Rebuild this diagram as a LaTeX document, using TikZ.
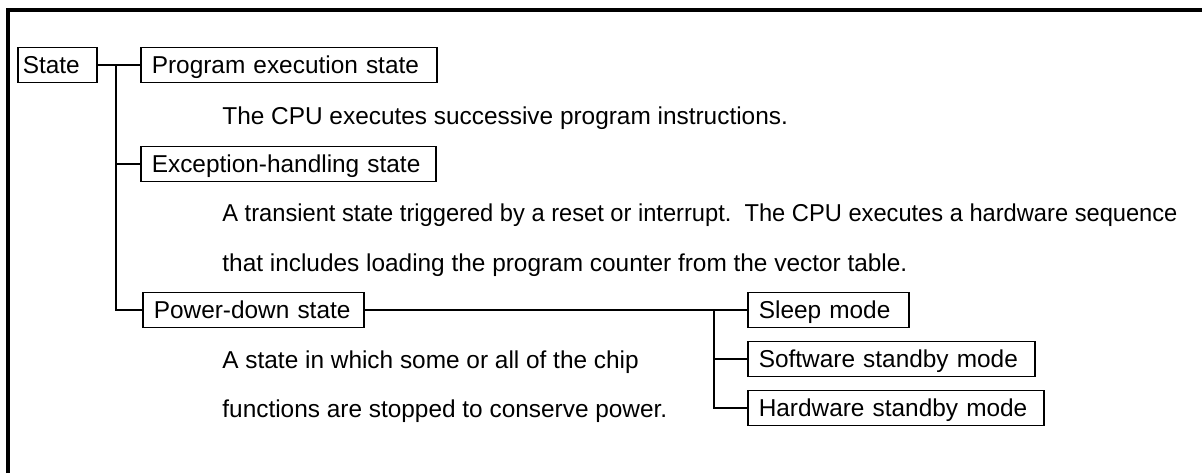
\documentclass[tikz,border=0pt]{standalone}
\usepackage{graphicx}
\usepackage{fontspec}
\setmainfont{Liberation Sans}
\begin{document}
\begin{tikzpicture}[x=0.5pt, y=-0.5pt,
    font=\fontsize{12.2}{14}\selectfont,
    box/.style={draw, line width=0.8pt, anchor=west, align=left,
                inner xsep=5.5pt, inner ysep=0pt, minimum height=17.5pt,
                text height=8.8pt, text depth=0pt},
    desc/.style={anchor=base west, inner sep=0pt},
    link/.style={line width=0.8pt}]
  \useasboundingbox (0,0) rectangle (1202,473);
  % frame
  \draw [line width=2pt] (8,473) -- (8,10) -- (1202,10);
  % states
  \node [box, inner xsep=2.5pt, text width=34.5pt] (state) at (17,65)  {State};
  \node [box, text width=137pt]   (prog)  at (140,65)  {Program execution state};
  \node [box, text width=136.5pt] (exc)   at (140,164) {Exception-handling state};
  \node [box, text width=99.5pt]  (power) at (142,310) {Power-down state};
  % power-down modes
  \node [box, text width=69.5pt]  (sleep) at (747,310) {Sleep mode};
  \node [box, text width=132.5pt] (soft)  at (747,359) {Software standby mode};
  \node [box, text width=137pt]   (hard)  at (747,408) {Hardware standby mode};
  % descriptions
  \node [desc] (progtxt)  at (222,124) {The CPU executes successive program instructions.};
  \node [desc] (exctxt)   at (222,221) {\scalebox{0.97}[1]{A transient state triggered by a reset or interrupt.\ \ The CPU executes a hardware sequence}};
  \node [desc] (exctxtb)  at (222,271) {that includes loading the program counter from the vector table.};
  \node [desc] (powtxt)   at (222,368) {A state in which some or all of the chip};
  \node [desc] (powtxtb)  at (222,417) {functions are stopped to conserve power.};
  % connectors
  \coordinate (j1) at (116,65);
  \coordinate (j2) at (714,310);
  \draw [link] (state) -- (prog);
  \draw [link] (j1) |- (power.west);
  \draw [link] (j1 |- exc.west) -- (exc.west);
  \draw [link] (power) -- (sleep);
  \draw [link] (j2) |- (hard.west);
  \draw [link] (j2 |- soft.west) -- (soft.west);
\end{tikzpicture}
\end{document}
